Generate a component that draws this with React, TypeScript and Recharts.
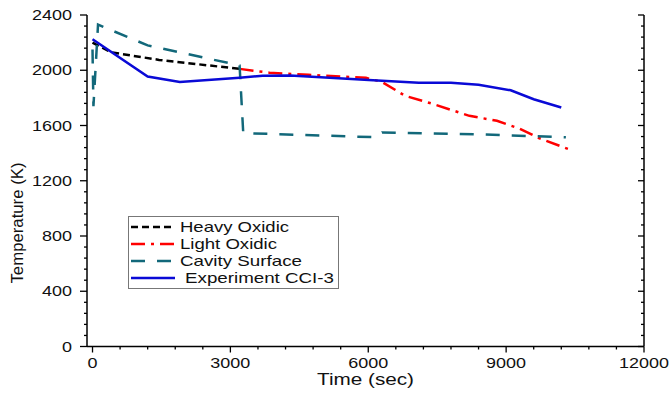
import { Label, Line, LineChart, XAxis, YAxis } from 'recharts'

// values
const heavyTime = [0, 400, 1450, 3200]
const heavyTemp = [2200, 2130, 2075, 2010]

const lightTime = [3200, 3850, 4700, 5950, 6300, 6800, 7400, 8200, 8800, 9300, 9700, 10350]
const lightTemp = [2010, 1982, 1967, 1945, 1915, 1815, 1757, 1670, 1634, 1576, 1511, 1430]

const cavityTime = [0, 20, 120, 1200, 3200, 3280, 6150, 6300, 8500, 10300]
const cavityTemp = [2150, 1740, 2330, 2180, 2035, 1545, 1515, 1550, 1535, 1515]

const expTime = [0, 1200, 1900, 3200, 3700, 4300, 6200, 7100, 7800, 8400, 9100, 9600, 10200]
const expTemp = [2225, 1955, 1915, 1945, 1960, 1962, 1925, 1910, 1910, 1895, 1855, 1790, 1730]

const xMajor = [0, 3000, 6000, 9000, 12000]
const yMajor = [0, 400, 800, 1200, 1600, 2000, 2400]

const xTicks = Array.from({ length: 21 }, (_, i) => i * 600)
const yTicks = Array.from({ length: 31 }, (_, i) => i * 80)

const zip = (t: number[], v: number[]) => t.map((time, i) => ({ time, temp: v[i] }))

const series = [
  { name: 'Heavy Oxidic', data: zip(heavyTime, heavyTemp), color: '#000000', dash: '7 4', width: 2.5 },
  { name: 'Light Oxidic', data: zip(lightTime, lightTemp), color: '#ff0000', dash: '14 6 3 6', width: 2.5 },
  { name: 'Cavity Surface', data: zip(cavityTime, cavityTemp), color: '#12687a', dash: '14 12', width: 2.5 },
  { name: 'Experiment CCI-3', data: zip(expTime, expTemp), color: '#0a0ad6', dash: undefined, width: 2.5 },
]

const legendWidths = [109, 97, 122, 149]

const font = '"Liberation Sans", Arial, sans-serif'

const BottomTick = (props: any) => {
  const { x, y, payload } = props
  const major = xMajor.includes(payload.value)
  const label = String(payload.value)
  return (
    <g>
      <line x1={x} y1={y} x2={x} y2={y + (major ? 6 : 3)} stroke="#000" strokeWidth={1.3} />
      {major && (
        <text x={x} y={y + 21} textAnchor="middle" fontSize={15} fontFamily={font} fill="#111"
          textLength={label.length * 10} lengthAdjust="spacingAndGlyphs">
          {label}
        </text>
      )}
    </g>
  )
}

const TopTick = (props: any) => {
  const { x, y, payload } = props
  const major = xMajor.includes(payload.value)
  return <line x1={x} y1={y} x2={x} y2={y + (major ? 5 : 3)} stroke="#000" strokeWidth={1.3} />
}

const LeftTick = (props: any) => {
  const { x, y, payload } = props
  const major = yMajor.includes(payload.value)
  const label = String(payload.value)
  return (
    <g>
      <line x1={x} y1={y} x2={x - (major ? 7 : 3)} y2={y} stroke="#000" strokeWidth={1.3} />
      {major && (
        <text x={x - 15} y={y + 5} textAnchor="end" fontSize={15} fontFamily={font} fill="#111"
          textLength={label.length * 10} lengthAdjust="spacingAndGlyphs">
          {label}
        </text>
      )}
    </g>
  )
}

const RightTick = (props: any) => {
  const { x, y, payload } = props
  const major = yMajor.includes(payload.value)
  return <line x1={x} y1={y} x2={x - (major ? 6 : 3)} y2={y} stroke="#000" strokeWidth={1.3} />
}

const YTitle = (props: any) => {
  const { viewBox } = props
  const cx = viewBox.x + 23
  const cy = viewBox.y + 208
  return (
    <text x={cx} y={cy} transform={`rotate(-90, ${cx}, ${cy})`} textAnchor="middle" fontSize={16.5}
      fontFamily={font} fill="#111" textLength={121} lengthAdjust="spacingAndGlyphs">
      Temperature (K)
    </text>
  )
}

const XTitle = (props: any) => {
  const { viewBox } = props
  return (
    <text x={viewBox.x + viewBox.width / 2} y={viewBox.y + 38} textAnchor="middle" fontSize={16}
      fontFamily={font} fill="#111" textLength={97} lengthAdjust="spacingAndGlyphs">
      Time (sec)
    </text>
  )
}

const ChartLegend = () => (
  <svg width={212} height={74} style={{ position: 'absolute', left: 128, top: 216 }}>
    <rect x={0.5} y={0.5} width={210} height={72} fill="#fff" stroke="#777" strokeWidth={1} />
    {series.map((s, i) => (
      <g key={s.name}>
        <line x1={3} x2={47} y1={11 + i * 17} y2={11 + i * 17} stroke={s.color} strokeWidth={2.5}
          strokeDasharray={s.dash} />
        <text x={i === 3 ? 57 : 52} y={16 + i * 17} fontSize={14.5} fontFamily={font} fill="#111"
          textLength={legendWidths[i]} lengthAdjust="spacingAndGlyphs">
          {s.name}
        </text>
      </g>
    ))}
  </svg>
)

export default function App() {
  return (
    <div style={{ position: 'absolute', left: 0, top: 0, width: 670, height: 399, background: '#fff' }}>
      <LineChart width={670} height={399} margin={{ top: 15, right: 0, bottom: 0, left: 0 }}>
        <XAxis dataKey="time" type="number" domain={[-120, 12000]} allowDataOverflow ticks={xTicks}
          interval={0} tick={BottomTick} tickLine={false} tickSize={0} tickMargin={0} height={52.5}
          axisLine={{ stroke: '#000', strokeWidth: 1.5 }}>
          <Label content={XTitle} />
        </XAxis>
        <XAxis xAxisId="top" orientation="top" type="number" domain={[-120, 12000]} allowDataOverflow
          ticks={xTicks} interval={0} tick={TopTick} tickLine={false} tickSize={0} tickMargin={0} height={0}
          axisLine={{ stroke: '#000', strokeWidth: 1.5 }} />
        <YAxis type="number" domain={[0, 2400]} allowDataOverflow ticks={yTicks} interval={0} tick={LeftTick}
          tickLine={false} tickSize={0} tickMargin={0} width={87} axisLine={{ stroke: '#000', strokeWidth: 1.5 }}>
          <Label content={YTitle} />
        </YAxis>
        <YAxis yAxisId="right" orientation="right" type="number" domain={[0, 2400]} allowDataOverflow
          ticks={yTicks} interval={0} tick={RightTick} tickLine={false} tickSize={0} tickMargin={0} width={26}
          axisLine={{ stroke: '#000', strokeWidth: 1.5 }} />
        {series.map((s) => (
          <Line key={s.name} data={s.data} dataKey="temp" name={s.name} type="linear" stroke={s.color}
            strokeWidth={s.width} strokeDasharray={s.dash} dot={false} activeDot={false}
            isAnimationActive={false} />
        ))}
      </LineChart>
      <ChartLegend />
    </div>
  )
}
